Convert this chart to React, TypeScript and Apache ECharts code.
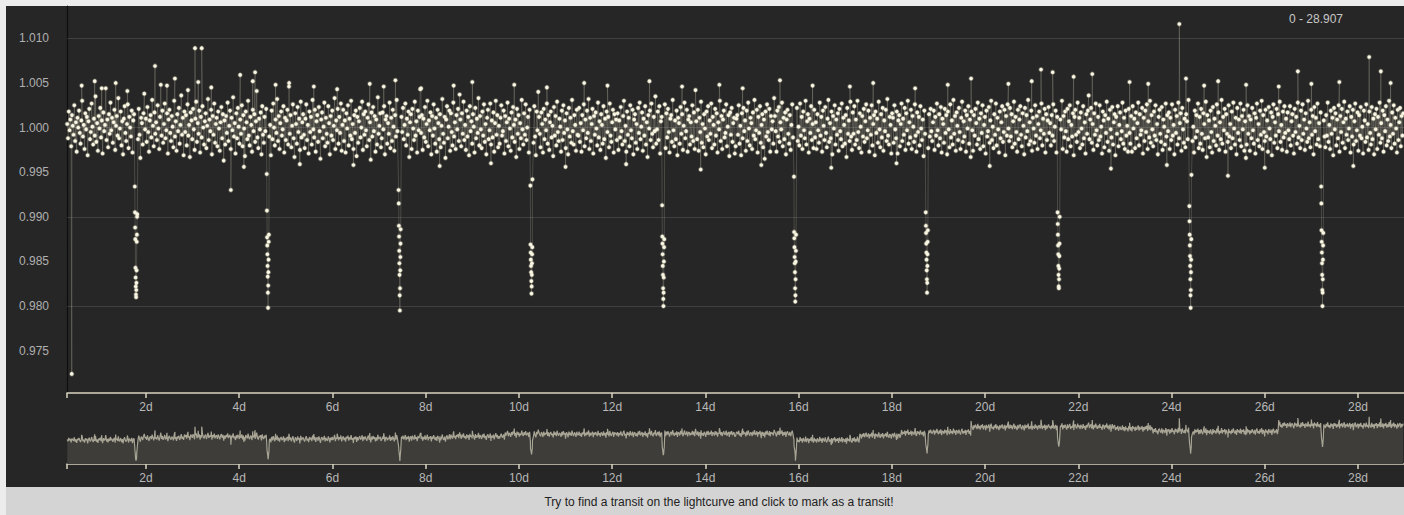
import React, { useEffect, useRef } from "react";
import * as echarts from "echarts";

// ---- data (flux deviations in units of 1e-4, regular cadence) ----
const NOISE_START = 0.31;
const NOISE_END = 28.97;
const noise: number[] = [
4,-12,18,-3,9,-21,14,2,-8,25,-15,6,-27,11,0,19,-6,-18,8,30,-10,3,-24,16,-2,12,-31,7,21,-13,-5,27,1,-19,10,-9,35,-16,5,-26,13,-1,22,-11,8,-29,17,-4,3,44,
-14,9,-22,15,-7,28,-3,11,-17,6,20,-25,2,13,-9,33,-12,-1,18,-20,7,-30,10,24,-6,-15,4,26,-23,12,0,-10,19,-28,8,15,-4,-18,29,3,-13,21,-8,-34,11,5,-19,16,38,-2,
10,-16,23,-5,-27,8,14,-11,31,2,-21,17,-7,6,-14,25,-1,-24,12,48,-9,19,-17,4,27,-12,-3,16,-29,9,20,-6,-15,13,1,-22,30,-10,7,-26,15,-4,22,-18,3,36,-8,11,-31,18,
-5,14,-20,26,-9,3,-33,17,8,-13,21,-2,-25,10,29,-16,5,-7,19,-28,12,-11,24,0,-19,7,16,-23,2,32,-14,9,-4,20,-30,13,-8,27,-17,4,11,-21,18,-1,-26,6,23,-12,15,-37,
8,-19,13,-6,28,-15,2,19,-24,11,-3,34,-10,5,-29,16,-12,22,1,-18,9,-7,25,-21,14,-1,-32,18,6,-13,30,-9,-20,12,3,-27,20,-4,15,-16,7,41,-11,-23,10,-2,17,-30,24,-8,
-17,12,-4,21,-26,7,15,-10,3,-31,19,-13,27,0,-20,9,-6,32,-15,13,-24,5,18,-9,-2,24,-28,11,-14,8,20,-19,46,-7,14,-22,2,26,-12,-33,16,4,-18,23,-5,10,-25,29,-11,6,
15,-8,-23,10,26,-14,3,-29,18,-5,12,-19,31,-2,-11,20,-27,7,14,-16,23,-4,-35,9,17,-12,1,28,-21,11,-7,-17,24,5,-30,13,-9,19,-14,2,33,-24,8,-3,21,-18,12,-6,27,-26,
3,20,-15,8,-28,16,-1,25,-20,10,-9,30,-13,4,-24,14,-6,19,-32,12,-17,7,22,-11,0,29,-25,15,-8,18,-3,-21,11,26,-14,6,-36,17,-10,23,-4,13,-27,9,-19,34,-7,2,16,-22,
-12,17,-2,24,-30,9,13,-18,5,-7,28,-23,11,-15,20,1,-26,14,-10,31,-4,-19,8,16,-29,12,-5,22,-13,3,27,-20,10,-8,18,-33,6,15,-24,21,-1,-14,29,-9,7,-28,19,-3,12,43,
-6,14,-25,10,-11,23,-16,4,30,-21,8,-3,17,-30,13,-9,26,-1,-18,11,-27,20,5,-13,15,-22,2,32,-7,-17,12,-34,9,24,-12,1,19,-26,16,-5,-20,28,-10,6,-24,14,-2,21,-15,37,
9,-21,16,-7,29,-14,3,-25,19,-10,12,-31,24,-4,7,-18,15,1,-28,22,-12,10,-6,33,-20,13,-2,-23,18,-9,26,-16,4,-30,11,20,-13,-3,27,-19,8,-11,17,-27,5,30,-8,14,-22,2,
-18,11,25,-9,-4,19,-29,13,-15,6,28,-21,10,-1,-26,17,-11,23,3,-16,9,-33,21,-7,14,-24,5,-12,31,-2,-19,16,-8,26,-14,0,12,-28,20,-5,-22,15,7,-17,24,-10,-31,18,-3,40,
12,-7,-22,17,4,-28,21,-13,9,-3,27,-18,14,-25,6,18,-11,2,-32,23,-9,13,-20,29,-5,-15,10,1,-27,19,-14,25,-6,8,-23,16,-2,-30,22,-10,11,-17,31,-4,-19,14,3,-26,20,-8,
-9,22,-16,5,-27,14,-3,26,-21,9,-12,19,-6,32,-24,11,-15,4,21,-29,13,-8,17,-1,-20,28,-11,7,-25,15,3,-18,24,-13,10,-34,18,-5,12,-22,27,-9,-16,6,20,-28,15,-2,9,-14,
16,-25,8,-11,23,-4,-19,13,30,-15,2,-27,18,-8,11,-21,25,-3,-12,20,-30,9,15,-17,4,-24,22,-6,28,-13,1,17,-26,10,-9,24,-19,6,-33,14,-1,19,-14,27,-7,-22,12,-4,35,-18,
-2,18,-14,24,-29,7,12,-20,3,-9,26,-23,16,-11,21,-5,-28,10,14,-16,31,-3,-21,8,-13,19,-31,11,5,-18,23,-7,15,-25,2,28,-12,-4,20,-27,9,13,-19,6,-10,25,-15,17,-24,42,
7,-13,20,-26,11,-5,29,-17,4,-22,15,-1,-30,18,-10,24,-14,8,-7,27,-23,12,3,-19,21,-9,16,-28,6,-2,30,-15,13,-24,9,19,-11,-6,26,-21,1,14,-32,17,-8,22,-16,5,11,-29,
-21,10,14,-8,25,-18,2,-31,16,-12,22,-4,8,-26,19,-15,28,-1,-20,11,5,-24,17,-9,31,-13,-3,20,-28,12,-6,24,-17,3,15,-22,9,-35,18,-10,26,-5,-14,21,-27,13,-2,7,-18,33,
13,-4,-27,19,-10,23,-16,6,-2,28,-21,11,-13,17,-30,9,20,-7,-18,14,-25,3,26,-11,8,-29,16,-5,22,-15,1,-20,27,-9,12,-24,18,-3,-12,30,-19,7,15,-28,10,-6,24,-14,4,-23,
20,-11,6,-24,15,-3,-17,28,-9,12,-27,19,2,-14,23,-6,-22,10,31,-16,5,-12,18,-30,13,-1,25,-19,9,-8,16,-26,21,-4,-13,27,-21,11,3,-18,14,-33,22,-7,8,-15,29,-10,-25,17,
-7,24,-19,9,-14,30,-5,-23,16,1,-28,13,-10,21,-16,7,26,-12,-3,19,-27,11,-8,25,-20,4,14,-31,18,-6,10,-17,29,-2,-22,15,-11,22,-26,8,-4,20,-15,32,-9,-19,12,3,-29,16,
11,-17,25,-2,-12,18,-29,8,14,-21,4,27,-15,10,-8,22,-25,16,-3,30,-18,6,-11,20,-24,13,1,-16,26,-9,-27,17,-5,12,-20,24,-1,-14,9,-32,19,-7,28,-13,5,-23,15,-10,21,-4,
-15,6,19,-25,12,-9,27,-3,-20,15,-12,23,-28,10,4,-17,21,-6,14,-30,18,-2,-22,26,-11,8,-19,31,-7,13,-26,17,2,-14,22,-5,-24,11,29,-16,7,-10,19,-27,14,-1,24,-18,9,-33,
18,-3,-26,14,-9,21,5,-19,28,-13,10,-24,16,-6,25,-21,3,12,-29,19,-10,-4,23,-17,8,30,-14,1,-23,15,-8,27,-20,11,-2,-28,18,-12,6,24,-16,-5,20,-31,13,-9,26,-1,-15,22,
-10,15,-22,7,29,-18,12,-5,-27,20,-13,9,24,-8,-21,16,2,-30,22,-11,14,-4,31,-19,6,-15,19,-26,11,-1,-17,25,-9,13,-24,4,18,-12,-3,27,-20,10,-7,21,-28,15,-14,8,23,-6,
5,-20,14,-9,26,-15,1,19,-28,12,-6,23,-18,9,-2,30,-24,13,-11,18,-4,-27,21,-13,7,25,-21,3,-10,16,-31,12,20,-8,-16,28,-5,11,-23,17,-1,-19,24,-12,6,-29,15,-7,19,36,
-13,9,22,-17,4,-25,16,-8,27,-3,-20,12,-14,25,-10,1,-29,18,8,-22,14,-6,29,-16,10,-26,20,-2,-11,23,-19,6,15,-31,12,-7,24,-21,3,17,-13,-4,28,-18,11,-24,19,-9,2,-27,
21,-6,-18,13,-27,24,-1,10,-23,17,-12,5,28,-20,15,-8,-3,22,-29,11,-15,19,-5,26,-24,7,-11,30,-17,14,-2,-21,18,-9,25,-14,4,-30,12,20,-7,-16,23,-25,9,1,-19,27,-10,14,
-4,17,-24,11,-14,26,-9,3,-30,20,-6,13,-19,28,-12,5,16,-26,22,-2,-17,10,-22,15,7,-13,31,-20,9,-8,24,-15,1,-28,19,-11,14,-4,27,-23,12,-18,21,-7,-25,16,4,-12,29,-33,
14,-11,8,-22,19,-5,-28,23,-15,10,2,-20,26,-9,17,-25,6,-13,31,-18,12,-3,21,-27,15,-7,-16,25,-10,4,-23,18,-12,28,-1,-19,11,-30,22,-6,9,-14,27,-21,13,-2,20,-26,7,-34,
-19,25,-7,13,-26,9,-12,22,-3,-18,16,-29,11,27,-14,4,-21,19,-8,30,-24,14,-5,-15,20,-10,8,-27,23,-1,-13,17,-31,12,26,-17,6,-9,21,-23,15,-4,29,-16,3,-25,18,-11,24,-6,
10,-27,17,-3,-13,24,-20,7,15,-9,-29,21,-5,12,-18,28,-11,2,-23,19,-14,26,-7,9,-25,16,-1,-16,30,-12,6,-22,20,-8,13,-30,23,-4,11,-19,27,-13,5,-21,17,-6,31,-26,8,-10,
-22,14,-9,28,-16,3,-24,19,-7,11,-31,22,-2,16,-20,9,-12,25,-27,13,-5,21,-17,6,29,-23,10,-8,18,-14,-1,24,-28,12,-10,20,-19,7,27,-15,-3,17,-26,14,-9,23,-12,1,-29,19,
8,-16,26,-11,4,-25,18,-6,-19,23,-13,10,-30,15,-2,21,-24,12,-8,28,-17,5,-12,19,-27,14,-4,24,-20,9,-15,30,-10,3,-23,17,-7,25,-18,11,-1,-28,20,-14,6,22,-21,13,-9,16,
];

// outlying points: [time (d), deviation 1e-4]
const outliers: [number, number][] = [
  [0.407, -276], [0.62, 47], [0.9, 52], [1.05, 44], [1.35, 50], [1.6, 41], [2.193, 69], [2.45, 47],
  [2.62, 55], [2.9, 42], [3.051, 89], [3.12, 51], [3.195, 89], [3.4, 45], [3.82, -70], [4.02, 59],
  [4.1, -44], [4.29, 52], [4.34, 62], [4.78, 48], [5.07, 50], [5.3, -41], [5.6, 46], [6.1, 43],
  [6.45, -42], [6.8, 49], [7.1, 46], [7.35, 53], [7.9, 44], [8.3, -43], [8.6, 47], [9.0, 51],
  [9.4, -40], [9.9, 48], [10.6, 45], [11.0, -44], [11.4, 50], [11.9, 47], [12.3, -41], [12.8, 52],
  [13.5, 46], [13.9, -47], [14.3, 48], [14.8, 44], [15.2, -42], [15.6, 53], [16.3, 47], [16.7, -45],
  [17.1, 46], [17.6, 50], [18.1, -40], [18.5, 44], [19.2, 48], [19.7, 55], [20.1, -43], [20.5, 49],
  [21.0, 52], [21.2, 65], [21.45, 62], [21.9, 57], [22.3, 60], [22.7, -46], [23.1, 51], [23.5, 49],
  [23.9, -42], [24.167, 116], [24.31, 55], [24.7, 47], [25.0, 52], [25.21, -54], [25.6, 48], [26.0, -45],
  [26.3, 46], [26.71, 63], [27.0, 49], [27.6, 51], [27.9, -43], [28.24, 79], [28.49, 63], [28.7, 50],
];

// transits: centre times and flux values through each event (in time order)
const transitCenters = [1.786, 4.613, 7.441, 10.268, 13.095, 15.923, 18.75, 21.578, 24.405, 27.233];
const transitFlux: number[][] = [
  [0.9934, 0.9905, 0.9888, 0.9875, 0.9843, 0.9832, 0.9822, 0.9813, 0.981, 0.9818, 0.9826, 0.984, 0.9872, 0.988, 0.99, 0.9903],
  [0.9948, 0.9907, 0.9877, 0.9868, 0.9858, 0.9845, 0.9833, 0.9815, 0.9798, 0.9823, 0.9838, 0.9852, 0.9872, 0.988],
  [0.993, 0.9915, 0.989, 0.9878, 0.9862, 0.9848, 0.9835, 0.9812, 0.9795, 0.982, 0.984, 0.9855, 0.987, 0.9886],
  [0.9935, 0.9869, 0.986, 0.9852, 0.9845, 0.9838, 0.9828, 0.9814, 0.9822, 0.9835, 0.9848, 0.9858, 0.9866, 0.9942],
  [0.9913, 0.9878, 0.987, 0.9858, 0.9845, 0.9835, 0.982, 0.9808, 0.98, 0.9815, 0.9832, 0.985, 0.9866, 0.9875],
  [0.9945, 0.9883, 0.9876, 0.9866, 0.9855, 0.9848, 0.9838, 0.982, 0.9805, 0.9812, 0.983, 0.985, 0.9862, 0.988],
  [0.9905, 0.989, 0.9882, 0.987, 0.986, 0.9852, 0.984, 0.983, 0.9815, 0.9826, 0.9845, 0.9858, 0.9872, 0.9885],
  [0.9905, 0.9892, 0.988, 0.9868, 0.9858, 0.9845, 0.9835, 0.9822, 0.982, 0.983, 0.9842, 0.9856, 0.987, 0.99],
  [0.9912, 0.9895, 0.988, 0.9868, 0.9856, 0.9845, 0.983, 0.9812, 0.9798, 0.9818, 0.9838, 0.9852, 0.9875, 0.9947],
  [0.9934, 0.9915, 0.9885, 0.9872, 0.986, 0.9848, 0.9835, 0.9818, 0.98, 0.9815, 0.983, 0.9852, 0.9868, 0.9882],
];

// raw-flux trend shown in the overview strip: [from time (d), offset 1e-4]
const trendSteps: [number, number][] = [
  [0, 0], [1.8, 18], [2.8, 32], [3.8, 27], [4.62, 9], [6.0, 14], [7.45, 18], [8.5, 32], [9.7, 55],
  [13.1, 59], [15.93, 0], [17.3, 41], [18.2, 64], [18.76, 73], [19.7, 118], [21.58, 121], [22.8, 105],
  [23.6, 82], [24.41, 77], [26.3, 136], [27.24, 132],
];

const yTicks = [0.975, 0.98, 0.985, 0.99, 0.995, 1.0, 1.005, 1.01];
const dayTicks = [2, 4, 6, 8, 10, 12, 14, 16, 18, 20, 22, 24, 26, 28];
const guideLevels = [1.00734, 0.99669, 0.98582, 0.97508];
const rangeLabel = "0 - 28.907";
const hint = "Try to find a transit on the lightcurve and click to mark as a transit!";

const X_MIN = 0.305;
const X_MAX = 28.987;
const Y_MIN = 0.97026;
const Y_MAX = 1.01362;
const MINI_MIN = 0.9782;
const MINI_MAX = 1.0227;
const TRANSIT_STEP = 0.0035;
const TRANSIT_GAP = 0.03;

function buildPoints(): [number, number][] {
  const pts: [number, number][] = [];
  const n = noise.length;
  const dt = (NOISE_END - NOISE_START) / (n - 1);
  noise.forEach((v, i) => {
    const t = NOISE_START + i * dt;
    if (transitCenters.some((c) => Math.abs(t - c) < TRANSIT_GAP)) return;
    pts.push([t, 1 + v * 1e-4]);
  });
  outliers.forEach(([t, v]) => pts.push([t, 1 + v * 1e-4]));
  transitCenters.forEach((c, k) => {
    const vals = transitFlux[k];
    vals.forEach((f, j) => pts.push([c + (j - (vals.length - 1) / 2) * TRANSIT_STEP, f]));
  });
  pts.sort((a, b) => a[0] - b[0]);
  return pts;
}

function trendAt(t: number): number {
  let off = 0;
  for (const [s, o] of trendSteps) if (s <= t) off = o;
  return off * 1e-4;
}

const FONT = "'Liberation Sans', Arial, sans-serif";

export default function App() {
  const ref = useRef<HTMLDivElement>(null);
  useEffect(() => {
    if (!ref.current) return;
    const chart = echarts.init(ref.current, undefined, { renderer: "svg" });
    const pts = buildPoints();
    const mini = pts.filter((p) => p[1] > MINI_MIN).map((p) => [p[0], p[1] + trendAt(p[0])]);
    const axisLineColor = "#d8d4c0";
    const xAxisBase = (gridIndex: number) => ({
      type: "value",
      gridIndex,
      min: X_MIN,
      max: X_MAX,
      axisLine: { show: true, onZero: false, lineStyle: { color: axisLineColor, width: 1.5 } },
      axisTick: { show: true, length: 5, customValues: [X_MIN, ...dayTicks], lineStyle: { color: axisLineColor, width: 1.5 } },
      axisLabel: {
        customValues: dayTicks,
        formatter: (v: number) => `${v}d`,
        color: "#b8b8b8",
        fontSize: 12,
        fontFamily: FONT,
        margin: 8,
      },
      splitLine: { show: false },
    });
    chart.setOption({
      animation: false,
      backgroundColor: "#ececec",
      graphic: [
        { type: "rect", z: -10, shape: { x: 6, y: 6, width: 1398, height: 481 }, style: { fill: "#262626" } },
        { type: "rect", z: -10, shape: { x: 6, y: 487, width: 1398, height: 28 }, style: { fill: "#d4d4d4" } },
        {
          type: "text", z: 10, x: 1316, y: 19,
          style: { text: rangeLabel, fill: "#c8c8c8", font: `12px ${FONT}`, textAlign: "center", textVerticalAlign: "middle" },
        },
        {
          type: "text", z: 10, x: 719, y: 502,
          style: { text: hint, fill: "#222222", font: `12px ${FONT}`, textAlign: "center", textVerticalAlign: "middle" },
        },
      ],
      grid: [
        { left: 67, right: 0, top: 6, height: 387 },
        { left: 67, right: 0, top: 415, height: 49 },
      ],
      xAxis: [xAxisBase(0), xAxisBase(1)],
      yAxis: [
        {
          type: "value",
          gridIndex: 0,
          min: Y_MIN,
          max: Y_MAX,
          axisLine: { show: true, lineStyle: { color: "#0e0e0e", width: 1.2 } },
          axisTick: { show: false },
          axisLabel: {
            customValues: yTicks,
            formatter: (v: number) => v.toFixed(3),
            color: "#b0b0b0",
            fontSize: 12,
            fontFamily: FONT,
            margin: 18,
          },
          splitLine: { show: false },
        },
        { type: "value", gridIndex: 1, min: MINI_MIN, max: MINI_MAX, show: false, splitLine: { show: false } },
      ],
      series: [
        {
          type: "line",
          xAxisIndex: 0,
          yAxisIndex: 0,
          data: [],
          z: 1,
          silent: true,
          markLine: {
            silent: true,
            symbol: "none",
            label: { show: false },
            lineStyle: { color: "rgba(255,255,255,0.12)", type: "solid", width: 1 },
            data: guideLevels.map((v) => ({ yAxis: v })),
          },
        },
        {
          type: "line",
          xAxisIndex: 0,
          yAxisIndex: 0,
          data: pts,
          z: 3,
          silent: true,
          symbol: "circle",
          symbolSize: 3.6,
          showSymbol: true,
          itemStyle: { color: "#fbf8e8", borderColor: "rgba(240,235,205,0.3)", borderWidth: 1.6 },
          lineStyle: { color: "rgba(215,210,190,0.35)", width: 0.6 },
        },
        {
          type: "line",
          xAxisIndex: 1,
          yAxisIndex: 1,
          data: mini,
          silent: true,
          showSymbol: false,
          symbol: "none",
          lineStyle: { color: "#a8a595", width: 1.2 },
          areaStyle: { color: "#3e3d3a", opacity: 1, origin: "start" },
        },
      ],
    });
    return () => chart.dispose();
  }, []);
  return <div ref={ref} style={{ position: "absolute", left: 0, top: 0, width: 1404, height: 515 }} />;
}
